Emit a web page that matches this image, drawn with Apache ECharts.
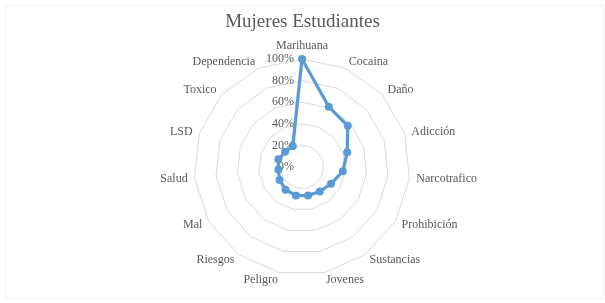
<!DOCTYPE html>
<html>
<head>
<meta charset="utf-8">
<script src="https://cdn.jsdelivr.net/npm/echarts@6/dist/echarts.min.js"></script>
<style>
  html, body { margin: 0; padding: 0; background: #fff; }
  #chart { width: 605px; height: 303px; }
</style>
</head>
<body>
<div id="chart"></div>
<script>
// categorias en orden horario empezando arriba
var categorias = ["Marihuana", "Cocaina", "Daño", "Adicción", "Narcotrafico", "Prohibición",
  "Sustancias", "Jovenes", "Peligro", "Riesgos", "Mal", "Salud", "LSD", "Toxico", "Dependencia"];
var mujeres = [1.00, 0.61, 0.57, 0.44, 0.38, 0.31, 0.28, 0.27, 0.27, 0.26, 0.24, 0.22, 0.23, 0.21, 0.21];
var ticks = ["0%", "20%", "40%", "60%", "80%", "100%"];

var echart = echarts.init(document.getElementById("chart"));

// echarts dibuja el radar en sentido antihorario, asi que se invierte el orden
var orden = [0];
for (var i = categorias.length - 1; i > 0; i--) orden.push(i);

var indicator = orden.map(function (i, k) {
  return {
    name: categorias[i],
    min: 0,
    max: 1,
    axisLabel: { show: k === 0 },
  };
});

var font = "'Liberation Serif', 'Times New Roman', serif";

var option = {
  backgroundColor: "#fff",
  animation: false,
  title: {
    text: "Mujeres Estudiantes",
    left: "center",
    top: 8,
    textStyle: {
      fontFamily: font,
      fontSize: 19,
      fontWeight: "normal",
      color: "#595959",
    },
  },
  graphic: [
    {
      type: "rect",
      shape: { x: 5.5, y: 5.5, width: 598, height: 293 },
      style: { fill: null, stroke: "#f0f0f0", lineWidth: 1 },
    },
  ],
  radar: {
    center: [302, 167],
    radius: 108,
    startAngle: 90,
    shape: "polygon",
    splitNumber: 5,
    indicator: indicator,
    axisName: {
      color: "#595959",
      fontFamily: font,
      fontSize: 12,
    },
    nameGap: 7,
    axisLine: { show: false },
    axisTick: { show: false },
    splitArea: { show: false },
    splitLine: {
      lineStyle: { color: "#d9d9d9", width: 1 },
    },
    axisLabel: {
      show: false,
      color: "#595959",
      fontFamily: font,
      fontSize: 12,
      margin: 8,
      formatter: function (value) {
        return ticks[Math.round(value * 5)];
      },
    },
  },
  series: [
    {
      type: "radar",
      symbol: "circle",
      symbolSize: 8,
      lineStyle: { color: "#5b9bd5", width: 3.25 },
      itemStyle: { color: "#5b9bd5" },
      data: [
        {
          name: "Mujeres",
          value: orden.map(function (i) { return mujeres[i]; }),
        },
      ],
    },
  ],
};
echart.setOption(option);
</script>
</body>
</html>
